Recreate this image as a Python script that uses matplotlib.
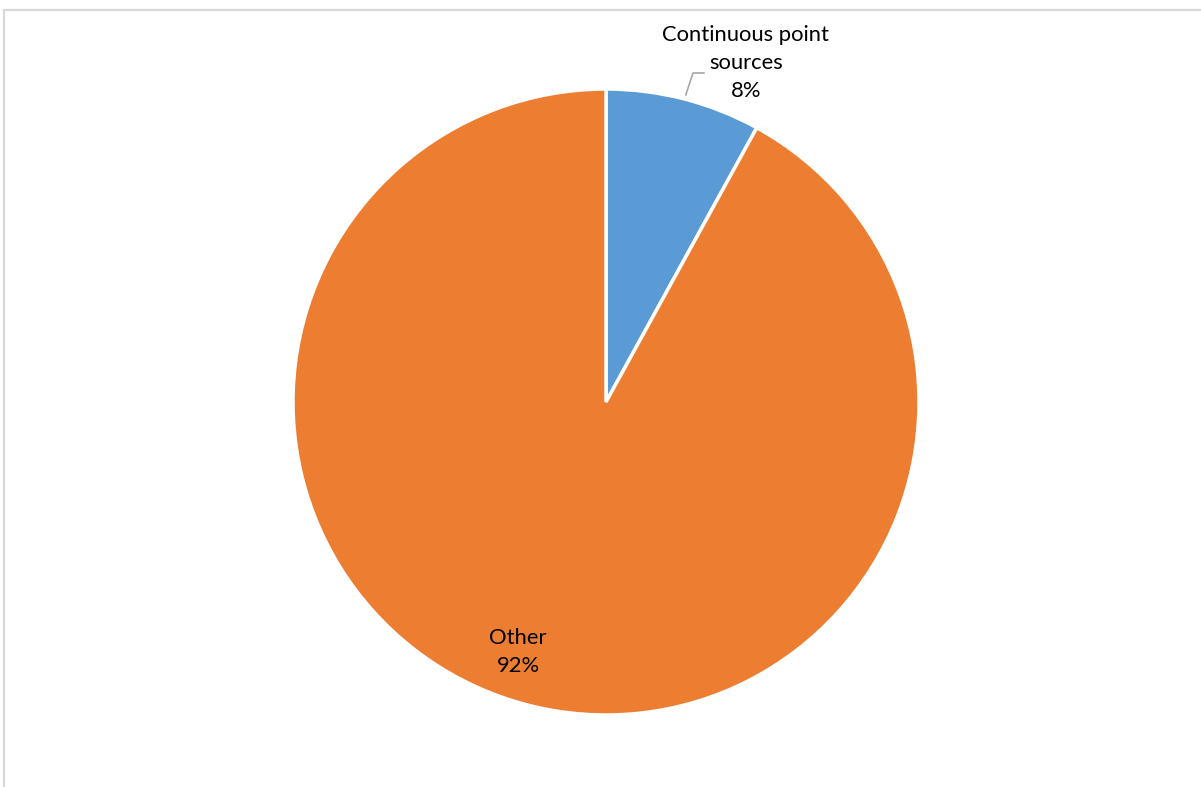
import numpy as np
import matplotlib.pyplot as plt
from matplotlib.patches import Rectangle

# Share of emissions by source
categories = ['Continuous point\nsources', 'Other']
shares = [8, 92]
colors = ['#5B9BD5', '#ED7D31']

W, H = 1201, 787
fig = plt.figure(figsize=(W / 100, H / 100), dpi=100)
ax = fig.add_axes([0, 0, 1, 1])

# chart area border
ax.add_patch(Rectangle((4, -20), W + 20, H - 10 + 20, fill=False,
                       edgecolor='#D9D9D9', linewidth=1.6))

cx, cy, r = 606, H - 402, 313
wedges, _ = ax.pie(shares, colors=colors, startangle=90, counterclock=False,
                   center=(cx, cy), radius=r, frame=True,
                   wedgeprops=dict(edgecolor='white', linewidth=2.5))
ax.set_xlim(0, W)
ax.set_ylim(0, H)
ax.set_aspect('equal')
ax.axis('off')

font = ['Lato', 'DejaVu Sans']
fs = 15.8

# label for the small slice, with a leader line from its rim
w = wedges[0]
mid = np.deg2rad((w.theta1 + w.theta2) / 2)
ex, ey = cx + r * np.cos(mid), cy + r * np.sin(mid)
ax.plot([ex + 2, 693, 704], [ey + 4, H - 73, H - 73], color='#A6A6A6', lw=1.2)
ax.text(746, H - 63, f'{categories[0]}\n{shares[0]}%', ha='center', va='center',
        fontsize=fs, family=font, linespacing=1.5)

# label inside the large slice
ax.text(518, H - 652, f'{categories[1]}\n{shares[1]}%', ha='center', va='center',
        fontsize=fs, family=font, linespacing=1.5)

fig.savefig('out.png', dpi=100)
